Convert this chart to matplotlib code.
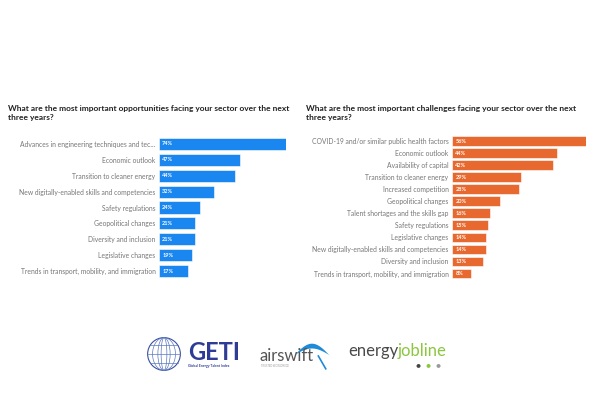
import numpy as np
import matplotlib.pyplot as plt
from matplotlib.patches import Ellipse, Circle

plt.rcParams['font.family'] = ['Lato', 'DejaVu Sans']

# Opportunities (left chart)
opp_labels = ['Advances in engineering techniques and tec...', 'Economic outlook',
              'Transition to cleaner energy', 'New digitally-enabled skills and competencies',
              'Safety regulations', 'Geopolitical changes', 'Diversity and inclusion',
              'Legislative changes', 'Trends in transport, mobility, and immigration']
opp_values = [74, 47, 44, 32, 24, 21, 21, 19, 17]

# Challenges (right chart)
chal_labels = ['COVID-19 and/or similar public health factors', 'Economic outlook',
               'Availability of capital', 'Transition to cleaner energy',
               'Increased competition', 'Geopolitical changes',
               'Talent shortages and the skills gap', 'Safety regulations',
               'Legislative changes', 'New digitally-enabled skills and competencies',
               'Diversity and inclusion', 'Trends in transport, mobility, and immigration']
chal_values = [56, 44, 42, 29, 28, 20, 16, 15, 14, 14, 13, 8]

W, H = 594, 396
fig = plt.figure(figsize=(W / 100, H / 100), dpi=100)
fig.patch.set_facecolor('white')


def px_axes(x0, y0, x1, y1):
    # pixel box (top-left origin) -> figure axes
    return fig.add_axes([x0 / W, 1 - y1 / H, (x1 - x0) / W, (y1 - y0) / H])


def bar_panel(ax, labels, values, color, height):
    y = np.arange(len(values))
    ax.barh(y, values, height=height, color=color, edgecolor='white', linewidth=0.4)
    for yi, v in zip(y, values):
        ax.text(max(values) * 0.025, yi, f'{v}%', color='white', fontsize=4.0, fontweight='bold',
                va='center', ha='left')
    ax.set_yticks(y)
    ax.set_yticklabels(labels, fontsize=4.9, color='#777777')
    ax.tick_params(axis='y', length=0, pad=2.5)
    ax.set_xticks([])
    ax.set_xlim(0, max(values))
    ax.set_ylim(len(values) - 0.5, -0.5)
    for s in ax.spines.values():
        s.set_visible(False)


ax1 = px_axes(159, 136, 286, 279)
bar_panel(ax1, opp_labels, opp_values, '#1a86f0', 0.76)

ax2 = px_axes(452, 135, 586, 279.5)
bar_panel(ax2, chal_labels, chal_values, '#e8692f', 0.8)

fig.text(8 / W, 1 - 105 / H, 'What are the most important opportunities facing your sector over the next\nthree years?',
         fontsize=6.0, fontweight='bold', color='#222222', va='top', ha='left', linespacing=1.4)
fig.text(306 / W, 1 - 105 / H, 'What are the most important challenges facing your sector over the next\nthree years?',
         fontsize=6.0, fontweight='bold', color='#222222', va='top', ha='left', linespacing=1.4)

# Logos
gax = px_axes(146, 336, 182, 372)
gax.set_xlim(-1.1, 1.1)
gax.set_ylim(-1.1, 1.1)
gax.set_aspect('equal')
gax.axis('off')
gax.add_patch(Circle((0, 0), 1, fill=False, ec='#3a4fa0', lw=0.8))
for w in [0.35, 0.75, 1.4]:
    gax.add_patch(Ellipse((0, 0), w, 2, fill=False, ec='#5a78c0', lw=0.5))
for yy in [-0.55, 0, 0.55]:
    hw = np.sqrt(1 - yy ** 2)
    gax.plot([-hw, hw], [yy, yy], color='#5a78c0', lw=0.5)

fig.text(188 / W, 1 - 360 / H, 'GETI', fontsize=17, fontweight='bold', color='#2e3c96', va='baseline')
fig.text(188 / W, 1 - 367 / H, 'Global Energy Talent Index', fontsize=2.4, fontweight='bold',
         color='#2e3c96', va='baseline')

fig.text(259 / W, 1 - 361 / H, 'airswift', fontsize=12, color='#555555', va='baseline')
fig.text(261 / W, 1 - 367 / H, 'TRUSTED WORLDWIDE', fontsize=1.8, color='#999999', va='baseline')
sax = px_axes(283, 340, 340, 372)
sax.set_xlim(0, 1)
sax.set_ylim(0, 1)
sax.axis('off')
t = np.linspace(0, 1, 50)
sax.fill_between(0.2 + 0.6 * t, 0.55 + 0.35 * np.sin(np.pi * t), 0.55 + 0.2 * np.sin(np.pi * t),
                 color='#1d8bd8', lw=0)
sax.plot([0.62, 0.75], [0.5, 0.1], color='#1d8bd8', lw=1.2)

fig.text(348 / W, 1 - 356 / H, 'energy', fontsize=12, color='#4a4a4a', va='baseline')
fig.text(398 / W, 1 - 356 / H, 'jobline', fontsize=12, color='#8cc63f', va='baseline')
for i, c in enumerate(['#444444', '#8cc63f', '#999999']):
    fig.text((416 + i * 10) / W, 1 - 367 / H, '●', fontsize=6, color=c, va='baseline')

fig.savefig('out.png', dpi=100, facecolor='white')
